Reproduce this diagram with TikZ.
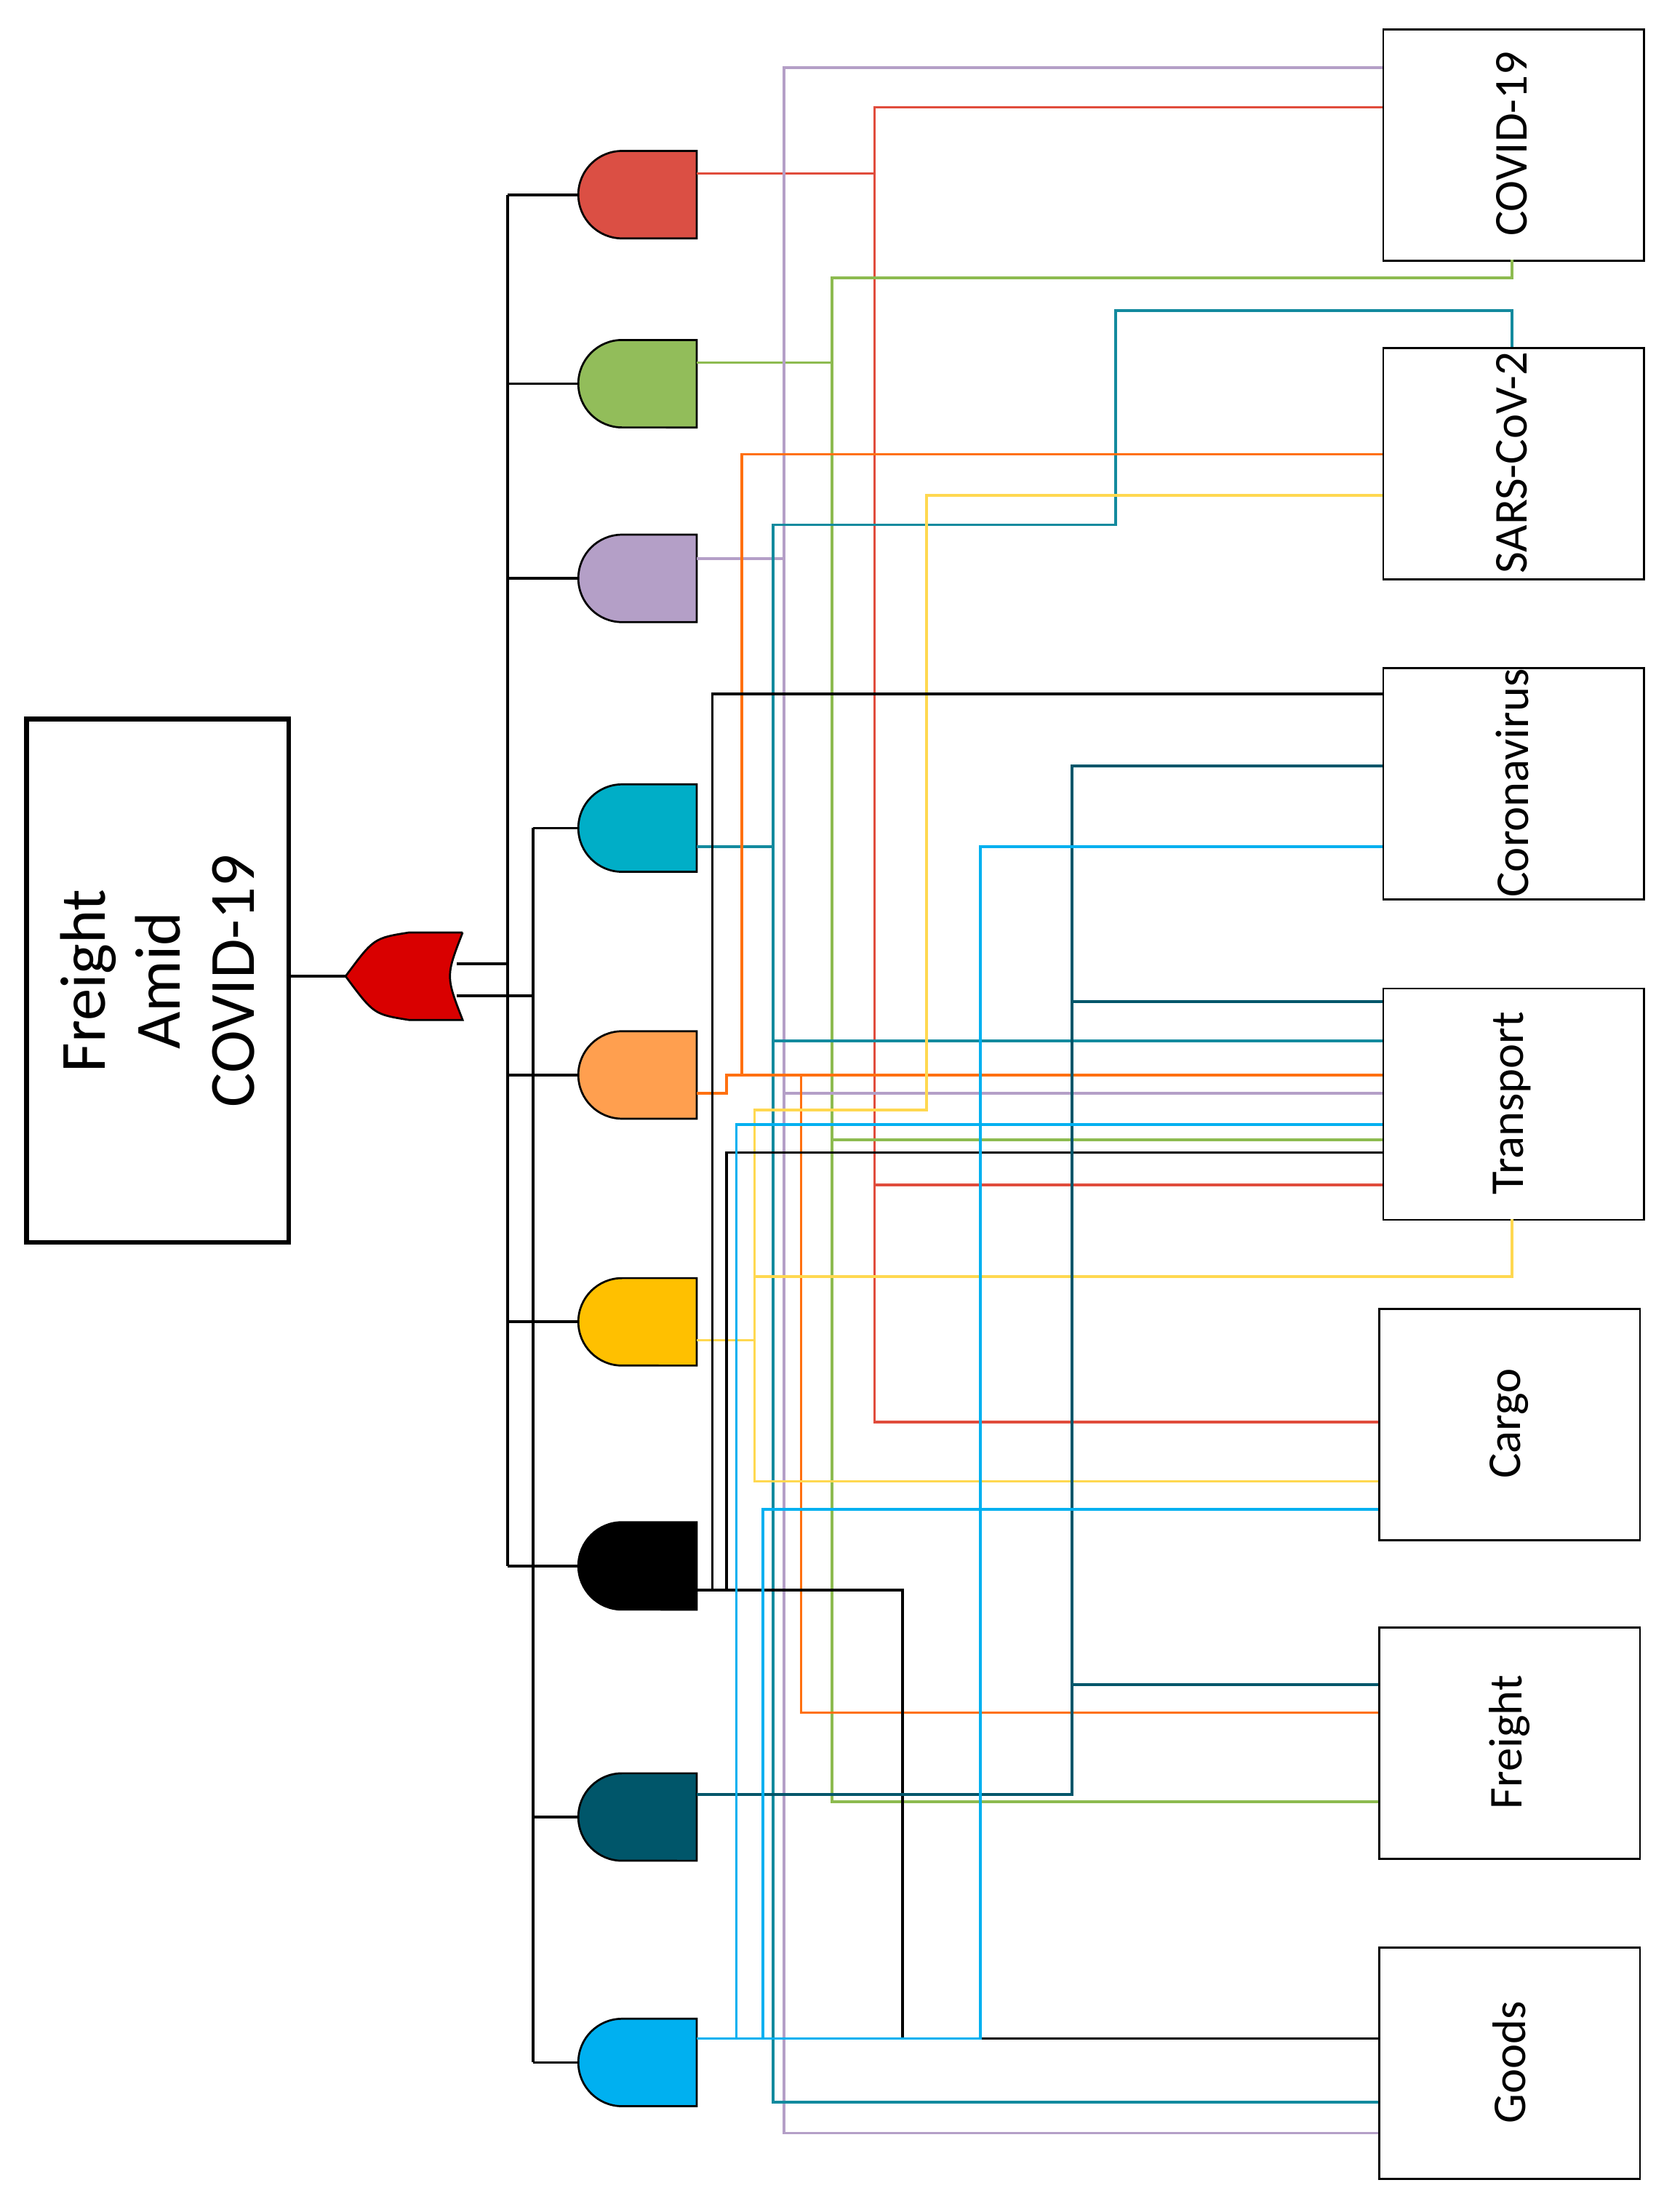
\documentclass[tikz,border=0pt]{standalone}
\usepackage{fontspec}
\setmainfont{Carlito}
\usetikzlibrary{positioning}
\definecolor{gred}{HTML}{DB4F44}
\definecolor{ggreen}{HTML}{92BD5A}
\definecolor{gpurple}{HTML}{B49FC7}
\definecolor{gcyan}{HTML}{00AEC7}
\definecolor{gorange}{HTML}{FF9F4F}
\definecolor{gyellow}{HTML}{FFC000}
\definecolor{gdteal}{HTML}{00566A}
\definecolor{gblue}{HTML}{00B0F0}
\definecolor{wred}{HTML}{E04C3C}
\definecolor{wgreen}{HTML}{8DBB50}
\definecolor{wteal}{HTML}{138A9E}
\definecolor{worange}{HTML}{FF7010}
\definecolor{wyellow}{HTML}{FFD850}
\tikzset{
  term/.style={draw, thick, minimum width=3.7cm, minimum height=3.28cm, anchor=north west, inner sep=0pt},
  termtext/.style={rotate=90, font=\fontsize{19}{22}\selectfont},
  wire/.style={line width=1.1pt},
  gate/.style={draw, line width=0.8pt}
}
\newcommand{\andg}[3]{%
  \fill[#3] (494,#2-31) -- (441,#2-31) arc[start angle=90, end angle=270, radius=0.62cm] -- (494,#2+31) -- cycle;
  \draw[gate] (494,#2-31) -- (441,#2-31) arc[start angle=90, end angle=270, radius=0.62cm] -- (494,#2+31) -- cycle;
  \coordinate (#1) at (494,#2);
  \coordinate (#1in) at (410,#2);}
\begin{document}
\begin{tikzpicture}[x=0.02cm, y=-0.02cm]
\useasboundingbox (0,0) rectangle (1185,1568);
% top event
\node[draw, line width=2pt, minimum width=3.72cm, minimum height=7.42cm, anchor=north west] (top) at (17,508) {};
\node[rotate=90, align=center, font=\fontsize{26}{30}\selectfont] at (top.center) {Freight\\Amid\\COVID-19};
% or gate
\fill[red!85!black] (328,661) -- (290,661) .. controls (265,665) .. (245,692) .. controls (265,719) .. (290,723) -- (328,723) .. controls (316,692) .. (328,661);
\draw[gate] (328,661) -- (290,661) .. controls (265,665) .. (245,692) .. controls (265,719) .. (290,723) -- (328,723) .. controls (316,692) .. (328,661);
\coordinate (or) at (245,692);
\draw[wire] (203,692) -- (or);
% and gates
\andg{gA}{138}{gred}
\andg{gB}{272}{ggreen}
\andg{gC}{410}{gpurple}
\andg{gD}{587}{gcyan}
\andg{gE}{762}{gorange}
\andg{gF}{937}{gyellow}
\andg{gG}{1110}{black}
\andg{gH}{1288}{gdteal}
\andg{gI}{1462}{gblue}
% buses
\draw[wire] (324,683) -- (360,683);
\draw[wire] (324,706) -- (378,706);
\draw[wire] (360,138) -- (360,1110);
\draw[wire] (378,587) -- (378,1462);
\foreach \g in {gA,gB,gC,gE,gF,gG} \draw[wire] (\g in) -- (360,0 |- \g in);
\foreach \g in {gD,gH,gI} \draw[wire] (\g in) -- (378,0 |- \g in);
% basic events
\node[term] (covid) at (980,20) {};
\node[term] (sars) at (980,246) {};
\node[term] (corona) at (980,473) {};
\node[term] (trans) at (980,700) {};
\node[term] (cargo) at (977,927) {};
\node[term] (freight) at (977,1153) {};
\node[term] (goods) at (977,1380) {};
\node[termtext] at (1072,102) {COVID-19};
\node[termtext] at (1072,328) {SARS-CoV-2};
\node[termtext] at (1072,555) {Coronavirus};
\node[termtext] at (1072,782) {Transport};
\node[termtext] at (1070,1009) {Cargo};
\node[termtext] at (1070,1235) {Freight};
\node[termtext] at (1070,1462) {Goods};
% red gate
\draw[wire, wred] (494,123) -- (620,123);
\draw[wire, wred] (980,76) -- (620,76) -- (620,1008) -- (977,1008);
\draw[wire, wred] (620,840) -- (980,840);
% green gate
\draw[wire, wgreen] (494,257) -- (590,257);
\draw[wire, wgreen] (1072,184) -- (1072,197) -- (590,197) -- (590,1277) -- (977,1277);
\draw[wire, wgreen] (590,808) -- (980,808);
% purple gate
\draw[wire, gpurple] (494,396) -- (556,396);
\draw[wire, gpurple] (980,48) -- (556,48) -- (556,1512) -- (977,1512);
\draw[wire, gpurple] (556,775) -- (980,775);
% cyan gate
\draw[wire, wteal] (494,600) -- (548,600);
\draw[wire, wteal] (1072,246) -- (1072,220) -- (791,220) -- (791,372) -- (548,372) -- (548,1490) -- (977,1490);
\draw[wire, wteal] (548,738) -- (980,738);
% orange gate
\draw[wire, worange] (494,775) -- (515,775) -- (515,762) -- (980,762);
\draw[wire, worange] (980,322) -- (526,322) -- (526,762);
\draw[wire, worange] (977,1214) -- (568,1214) -- (568,762);
% yellow gate
\draw[wire, wyellow] (494,950) -- (535,950);
\draw[wire, wyellow] (980,351) -- (657,351) -- (657,787) -- (535,787) -- (535,1050) -- (977,1050);
\draw[wire, wyellow] (1072,864) -- (1072,905) -- (535,905);
% black gate
\draw[wire] (494,1127) -- (640,1127) -- (640,1445) -- (977,1445);
\draw[wire] (980,492) -- (505,492) -- (505,1127);
\draw[wire] (980,817) -- (515,817) -- (515,1127);
% dark teal gate
\draw[wire, gdteal] (494,1272) -- (760,1272) -- (760,543) -- (980,543);
\draw[wire, gdteal] (760,710) -- (980,710);
\draw[wire, gdteal] (760,1194) -- (977,1194);
% blue gate
\draw[wire, gblue] (494,1445) -- (695,1445) -- (695,600) -- (980,600);
\draw[wire, gblue] (980,797) -- (522,797) -- (522,1445);
\draw[wire, gblue] (977,1070) -- (541,1070) -- (541,1445);
\end{tikzpicture}
\end{document}
